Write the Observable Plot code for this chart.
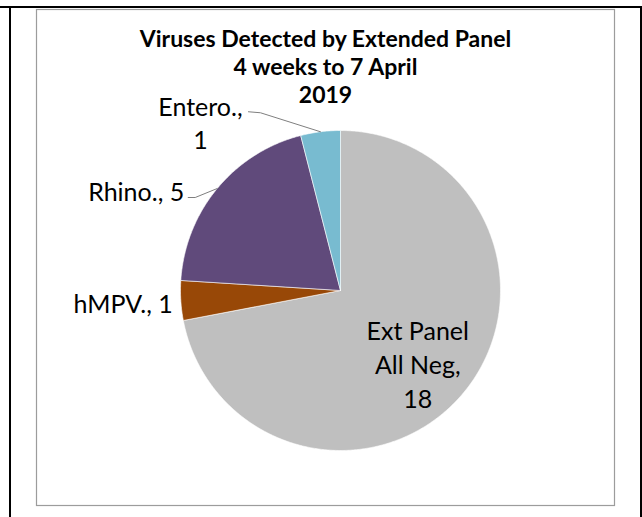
<!DOCTYPE html>
<html>
<head>
<meta charset="utf-8">
<script src="https://cdn.jsdelivr.net/npm/d3@7"></script>
<script src="https://cdn.jsdelivr.net/npm/@observablehq/plot@0.6"></script>
<style>
  html, body { margin: 0; padding: 0; background: #fff; }
  #wrap { position: relative; width: 642px; height: 517px; overflow: hidden; }
  .bl { position: absolute; background: #000; }
  #chart { position: absolute; left: 0; top: 0; }
</style>
</head>
<body>
<div id="wrap">
  <div id="chart"></div>
  <div class="bl" style="left:0;top:6px;width:642px;height:2px"></div>
  <div class="bl" style="left:9px;top:6px;width:2px;height:511px"></div>
  <div class="bl" style="left:640px;top:6px;width:2px;height:511px"></div>
</div>
<script>
// ---- data ----
const categories = ["Ext Panel All Neg", "hMPV.", "Rhino.", "Entero."];
const counts = [18, 1, 5, 1];
const labelTexts = ["Ext Panel\nAll Neg,\n18", "hMPV., 1", "Rhino., 5", "Entero.,\n1"];
const colors = ["#bfbfbf", "#984807", "#604a7b", "#78bbd0"];
const titleText = "Viruses Detected by Extended Panel\n4 weeks to 7 April\n2019";

// ---- layout (pixels) ----
const W = 642, H = 517;
const frame = {left: 36, right: 614, top: 9, bottom: 505};
const cx = 340, cy = 290, R = 160;
const FONT = "Lato, 'Open Sans', sans-serif";

const pie = d3.pie().sort(null).value(d => d.value)(categories.map((c, i) => ({name: c, value: counts[i], i})));

// polygon points in unit-radius coordinates (y up)
function slicePoints(a) {
  const pts = [{x: 0, y: 0}];
  const n = Math.max(2, Math.ceil((a.endAngle - a.startAngle) / (Math.PI / 360)));
  for (let k = 0; k <= n; k++) {
    const t = a.startAngle + (a.endAngle - a.startAngle) * k / n;
    pts.push({x: Math.sin(t), y: Math.cos(t)});
  }
  pts.push({x: 0, y: 0});
  return pts;
}
const mid = a => (a.startAngle + a.endAngle) / 2;
const edge = (a, r = 1) => ({x: r * Math.sin(mid(a)), y: r * Math.cos(mid(a))});
const px = (p, dx, dy) => ({x: p.x + dx / R, y: p.y - dy / R});

// leader lines (pixel offsets from slice edge midpoint)
const leaderSpec = {3: [[-60, -19], [-72, -20]], 2: [[-22, 9], [-29, 9]]};
const leaders = Object.entries(leaderSpec).map(([i, offs]) => {
  const e = edge(pie[i]);
  return [e, ...offs.map(o => px(e, o[0], o[1]))];
});

// label placement (pixel offsets from slice edge midpoint)
const labelSpec = [
  {dx: -46, dy: -29, anchor: "middle", lh: 1.36},
  {dx: -8, dy: 3, anchor: "end", lh: 1.2},
  {dx: -33, dy: 3, anchor: "end", lh: 1.2},
  {dx: -120, dy: -9.5, anchor: "middle", lh: 1.32}
];

const marks = [];
pie.forEach((a, i) => {
  marks.push(Plot.line(slicePoints(a), {x: "x", y: "y", fill: colors[i], stroke: "#ffffff", strokeWidth: 0.6, curve: "linear"}));
});
leaders.forEach(pts => marks.push(Plot.line(pts, {x: "x", y: "y", stroke: "#7f7f7f", strokeWidth: 1})));
pie.forEach((a, i) => {
  const s = labelSpec[i];
  const e = edge(a);
  marks.push(Plot.text([e], {x: "x", y: "y", text: () => labelTexts[i], dx: s.dx, dy: s.dy,
    textAnchor: s.anchor, lineHeight: s.lh, fontSize: 25, fill: "#000", fontFamily: FONT}));
});
marks.push(Plot.text([titleText], {frameAnchor: "top", dy: 18, dx: 0, text: d => d, fontSize: 23, fontWeight: "bold",
  lineHeight: 1.217, fill: "#000", fontFamily: FONT, lineAnchor: "top"}));
marks.push(Plot.frame({stroke: "#9c9c9c", strokeWidth: 1.2}));

const chart = Plot.plot({
  width: W, height: H,
  marginLeft: frame.left, marginRight: W - frame.right, marginTop: frame.top, marginBottom: H - frame.bottom,
  x: {domain: [(frame.left - cx) / R, (frame.right - cx) / R], axis: null},
  y: {domain: [(cy - frame.bottom) / R, (cy - frame.top) / R], axis: null},
  style: {background: "transparent", fontFamily: FONT},
  marks
});
document.getElementById("chart").appendChild(chart);
</script>
</body>
</html>
